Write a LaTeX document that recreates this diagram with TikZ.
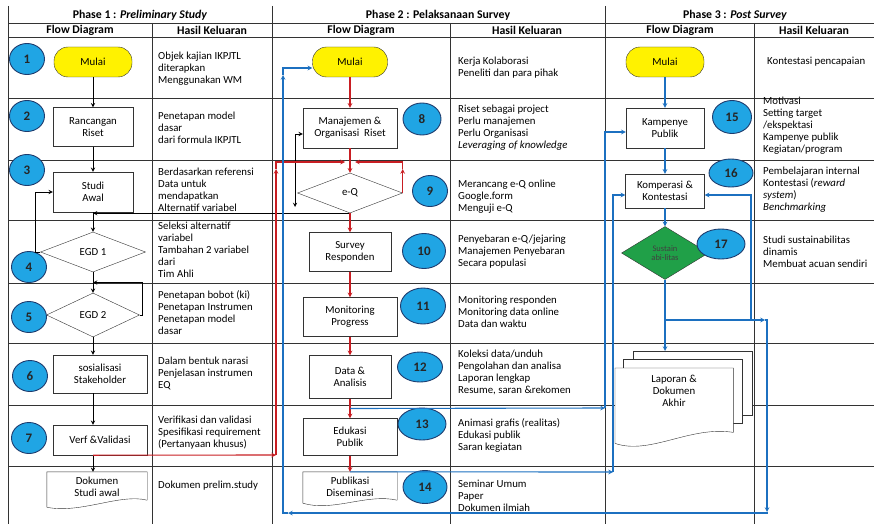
\documentclass[tikz,border=0pt]{standalone}
\usepackage{fontspec}
\setmainfont{Carlito}
\usepackage{xcolor}
\usepackage{tikz}
\usetikzlibrary{positioning,shapes.geometric,calc}

\definecolor{jaune}{RGB}{255,242,0}
\definecolor{cyanrond}{RGB}{32,165,228}
\definecolor{bordrond}{RGB}{30,60,110}
\definecolor{rouge}{RGB}{200,30,35}
\definecolor{bleu}{RGB}{28,112,192}
\definecolor{vert}{RGB}{32,160,72}

\begin{document}
\begin{tikzpicture}[
    x=1pt, y=-1pt,
    >=stealth,
    every node/.style={font=\fontsize{10.8}{12}\selectfont},
    box/.style={draw=black!80, rectangle, align=center, minimum width=80pt, minimum height=39pt, inner sep=2pt},
    term/.style={draw=black!80, fill=jaune, rectangle, rounded corners=14pt, minimum width=78pt, minimum height=30pt},
    decision/.style={draw=black!80, diamond, align=center, inner sep=0pt},
    docbox/.style={rectangle, align=center, inner sep=2pt},
    num/.style={ellipse, draw=bordrond, line width=0.9pt, fill=cyanrond, minimum width=35pt, minimum height=31pt, inner sep=0pt, text=black!85, font=\bfseries\fontsize{13}{13}\selectfont},
    hasil/.style={anchor=north west, align=left, inner sep=0pt},
    head/.style={font=\bfseries\fontsize{11.8}{13}\selectfont},
    grille/.style={black!80, line width=0.6pt},
    fln/.style={->, black, line width=0.9pt},
    flr/.style={->, rouge, line width=1.1pt},
    flb/.style={->, bleu, line width=1.1pt}
  ]
    \useasboundingbox (0,0) rectangle (874,524);

    % Grille du tableau
    \foreach \y in {23,37,98,160,220,283,343,405,466}
      \draw[grille] (8,\y) -- (874,\y);
    \foreach \x in {8,272,605}
      \draw[grille] (\x,6) -- (\x,524);
    \foreach \x in {152,450,754}
      \draw[grille] (\x,23) -- (\x,524);

    % En-tetes
    \node[head] (ph1) at (140,15) {Phase 1 : \textit{Preliminary Study}};
    \node[head] (ph2) at (438,15) {Phase 2 : Pelaksanaan Survey};
    \node[head] (ph3) at (735,15) {Phase 3 : \textit{Post Survey}};
    \node[head] (fd1) at (80,30) {Flow Diagram};
    \node[head] (hk1) at (212,30) {Hasil Keluaran};
    \node[head] (fd2) at (361,30) {Flow Diagram};
    \node[head] (hk2) at (527,30) {Hasil Keluaran};
    \node[head] (fd3) at (680,30) {Flow Diagram};
    \node[head] (hk3) at (814,30) {Hasil Keluaran};

    % Phase 1 : noeuds
    \node[term] (mulai1) at (93,62) {Mulai};
    \node[box] (rancangan) at (93,127) {Rancangan\\Riset};
    \node[box, minimum height=40pt] (studi) at (93,192) {Studi\\Awal};
    \node[decision, minimum width=105pt, minimum height=40pt] (egd1) at (93,252) {EGD 1};
    \node[decision, minimum width=93pt, minimum height=44pt] (egd2) at (93,315) {EGD 2};
    \node[box, minimum width=94pt, minimum height=38pt] (sosial) at (100,374) {sosialisasi\\Stakeholder};
    \node[box, minimum width=94pt, minimum height=30pt] (verf) at (100,440) {Verf \&Validasi};
    \node[docbox, minimum width=100pt, minimum height=30pt] (dokumen) at (97,487) {Dokumen\\Studi awal};
    \draw[black!80] ([shift={(0,-2)}]dokumen.south east) -- (dokumen.north east) -- (dokumen.north west)
      -- ([shift={(0,5)}]dokumen.south west)
      .. controls ([shift={(33,12)}]dokumen.south west) and ([shift={(-27,-9)}]dokumen.south east)
      .. ([shift={(0,-2)}]dokumen.south east);

    \node[num] (n1) at (27,59) {1};
    \node[num] (n2) at (27,116) {2};
    \node[num] (n3) at (27,170) {3};
    \node[num] (n4) at (29,267) {4};
    \node[num] (n5) at (29,317) {5};
    \node[num] (n6) at (30,376) {6};
    \node[num] (n7) at (29,438) {7};

    % Phase 2 : noeuds
    \node[term, minimum width=75pt] (mulai2) at (350,62) {Mulai};
    \node[box, minimum width=94pt, minimum height=40pt] (manajemen) at (350,128) {Manajemen \&\\Organisasi~~Riset};
    \node[decision, minimum width=105pt, minimum height=40pt] (eq) at (350,193) {e-Q};
    \node[box, minimum width=82pt] (survey) at (350,252) {Survey\\Responden};
    \node[box, minimum width=94pt] (monitoring) at (350,317) {Monitoring\\Progress};
    \node[box, minimum width=82pt, minimum height=43pt] (data) at (350,377) {Data \&\\Analisis};
    \node[box, minimum width=94pt, minimum height=37pt] (edukasi) at (350,437) {Edukasi\\Publik};
    \node[docbox, minimum width=94pt, minimum height=30pt] (publikasi) at (350,487) {Publikasi\\Diseminasi};
    \draw[black!80] ([shift={(0,-2)}]publikasi.south east) -- (publikasi.north east) -- (publikasi.north west)
      -- ([shift={(0,1)}]publikasi.south west)
      .. controls ([shift={(30,10)}]publikasi.south west) and ([shift={(-30,-9)}]publikasi.south east)
      .. ([shift={(0,-2)}]publikasi.south east);

    \node[num, minimum width=38pt, minimum height=32pt] (n8) at (422,119) {8};
    \node[num] (n9) at (430,191) {9};
    \node[num, minimum width=43pt, minimum height=35pt] (n10) at (424,251) {10};
    \node[num, minimum width=45pt, minimum height=36pt] (n11) at (423,306) {11};
    \node[num, minimum width=45pt, minimum height=30pt] (n12) at (420,367) {12};
    \node[num, minimum width=48pt, minimum height=32pt] (n13) at (422,424) {13};
    \node[num, minimum width=44pt, minimum height=33pt] (n14) at (425,487) {14};

    % Phase 3 : noeuds
    \node[term] (mulai3) at (665,62) {Mulai};
    \node[box, minimum width=78pt, minimum height=40pt] (kampenye) at (665,128) {Kampenye\\Publik};
    \node[box, minimum width=79pt, minimum height=34pt] (komperasi) at (665,191) {Komperasi \&\\Kontestasi};
    \node[decision, fill=vert, minimum width=87pt, minimum height=53pt, text=black!75,
          font=\fontsize{8.5}{9.5}\selectfont] (sustain) at (665,253) {Sustain\\abi-litas};
    % pile de documents
    \draw[black!80, fill=white] (633,351) rectangle (752,415);
    \draw[black!80, fill=white] (623,359) rectangle (742,423);
    \node[docbox, minimum width=118pt, minimum height=44pt, anchor=north west] (laporan) at (615,368) {};
    \draw[black!80, fill=white] ([shift={(0,20)}]laporan.south east) -- (laporan.north east) -- (laporan.north west)
      -- ([shift={(0,31)}]laporan.south west)
      .. controls ([shift={(35,43)}]laporan.south west) and ([shift={(-43,13)}]laporan.south east)
      .. ([shift={(0,20)}]laporan.south east);
    \node[align=center, anchor=north] (laporantxt) at (674,372) {Laporan \&\\Dokumen\\Akhir};

    \node[num, minimum width=39pt, minimum height=33pt] (n15) at (732,117) {15};
    \node[num, minimum width=44pt, minimum height=28pt] (n16) at (731,173) {16};
    \node[num, minimum width=48pt, minimum height=30pt] (n17) at (721,244) {17};

    % Hasil keluaran
    \node[hasil] (h11) at (158,52) {Objek kajian IKPJTL\\diterapkan\\Menggunakan WM};
    \node[hasil] (h12) at (158,112) {Penetapan model\\dasar\\dari formula IKPJTL};
    \node[hasil] (h13) at (158,168) {Berdasarkan referensi\\Data untuk\\mendapatkan\\Alternatif variabel};
    \node[hasil] (h14) at (158,222) {Seleksi alternatif\\variabel\\Tambahan 2 variabel\\dari\\Tim Ahli};
    \node[hasil] (h15) at (158,290) {Penetapan bobot (ki)\\Penetapan Instrumen\\Penetapan model\\dasar};
    \node[hasil] (h16) at (158,357) {Dalam bentuk narasi\\Penjelasan instrumen\\EQ};
    \node[hasil] (h17) at (158,416) {Verifikasi dan validasi\\Spesifikasi requirement\\(Pertanyaan khusus)};
    \node[hasil] (h18) at (158,481) {Dokumen prelim.study};

    \node[hasil] (h21) at (458,57) {Kerja Kolaborasi\\Peneliti dan para pihak};
    \node[hasil] (h22) at (458,105) {Riset sebagai project\\Perlu manajemen\\Perlu Organisasi\\\textit{Leveraging of knowledge}};
    \node[hasil] (h23) at (458,180) {Merancang e-Q online\\Google.form\\Menguji e-Q};
    \node[hasil] (h24) at (458,235) {Penyebaran e-Q/jejaring\\Manajemen Penyebaran\\Secara populasi};
    \node[hasil] (h25) at (458,296) {Monitoring responden\\Monitoring data online\\Data dan waktu};
    \node[hasil] (h26) at (458,350) {Koleksi data/unduh\\Pengolahan dan analisa\\Laporan lengkap\\Resume, saran \&rekomen};
    \node[hasil] (h27) at (458,418) {Animasi grafis (realitas)\\Edukasi publik\\Saran kegiatan};
    \node[hasil] (h28) at (458,480) {Seminar Umum\\Paper\\Dokumen ilmiah};

    \node[hasil] (h31) at (767,57) {Kontestasi pencapaian};
    \node[hasil] (h32) at (763,97) {Motivasi\\Setting target\\/ekspektasi\\Kampenye publik\\Kegiatan/program};
    \node[hasil] (h33) at (763,167) {Pembelajaran internal\\Kontestasi (\textit{reward}\\\textit{system})\\\textit{Benchmarking}};
    \node[hasil] (h34) at (763,236) {Studi sustainabilitas\\dinamis\\Membuat acuan sendiri};

    % Fleches phase 1
    \draw[fln] (mulai1) -- (rancangan);
    \draw[fln] (rancangan) -- (studi);
    \draw[fln] (studi) -- (egd1);
    \draw[fln] (egd1) -- (egd2);
    \draw[fln] (egd2.south) -- (egd2.south |- sosial.north);
    \draw[fln] (sosial.south -| studi.south) -- (verf.north -| studi.south);
    \draw[fln] (verf.south -| studi.south) -- (dokumen.north -| studi.south);
    \coordinate (j45) at ($(egd1.south)!0.5!(egd2.north)$);
    \draw[fln] (egd1.west) -- ++(-5,0) |- (studi.west);
    \draw[fln] (egd2.east) -- ++(3,0) |- (j45);

    % Retours e-Q (noir)
    \draw[fln] (eq.south) -- (eq.south -| studi.south);
    \coordinate (c295) at (295,207);
    \draw[fln, <->] (c295) |- ([yshift=-6pt]manajemen.west);

    % Fleches phase 2 (rouge)
    \draw[flr] (mulai2) -- (manajemen);
    \draw[flr] (manajemen) -- (eq);
    \draw[flr] (eq) -- (survey);
    \draw[flr] (survey) -- (monitoring);
    \draw[flr] (monitoring) -- (data);
    \draw[flr] (data) -- (edukasi);
    \draw[flr] (edukasi) -- (publikasi);
    \coordinate (r1) at (276,455);
    \coordinate (r2) at (276,169);
    \coordinate (r3) at (345,162);
    \coordinate (r4) at (355,162);
    \draw[flr] (verf.south -| studi.south) -- (r1);
    \draw[flr] (r1) -- (r2);
    \draw[flr] (r2) |- (r3);
    \draw[flr] (eq.east) -- (eq.east |- r2);
    \draw[flr] (eq.east |- r2) |- (r4);

    % Fleches phase 3 (bleu)
    \draw[flb] (mulai3) -- (kampenye);
    \draw[flb] (kampenye) -- (komperasi);
    \draw[flb] (komperasi) -- (sustain);
    \coordinate (lapatas) at (665,351);
    \draw[flb] (sustain) -- (lapatas);
    \coordinate (b1) at (765,320);
    \coordinate (b2) at (767,512);
    \coordinate (b3) at (288,513);
    \coordinate (b4) at (283,75);
    \draw[flb] (sustain.south |- b1) -- (b1);
    \draw[flb] (b1) -| (b2);
    \draw[flb] (b2) |- (b3);
    \draw[flb] (b3) -| (b4);
    \draw[flb] (b4) |- ([yshift=-6pt]mulai2.west);
    \coordinate (b5) at (751,320);
    \draw[flb] (b5) |- ([yshift=-4pt]komperasi.east);
    \coordinate (b6) at ($(data.south)!0.5!(edukasi.north)$);
    \coordinate (b7) at (605,408);
    \draw[flb] (b6) -- (b7);
    \draw[flb] (b7) |- ([yshift=-4pt]kampenye.west);
    \coordinate (b8) at (613,472);
    \draw[flb] (publikasi.north) -- (b8);
    \draw[flb] (b8) |- ([yshift=-4pt]komperasi.west);

  \end{tikzpicture}
\end{document}
